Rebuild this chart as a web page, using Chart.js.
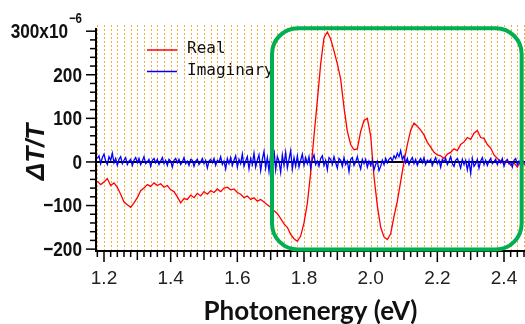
<!DOCTYPE html>
<html>
<head>
<meta charset="utf-8">
<script src="https://cdn.jsdelivr.net/npm/chart.js@4.4.0/dist/chart.umd.min.js"></script>
<style>
  html, body { margin: 0; padding: 0; background: #fff; overflow: hidden; }
  canvas { display: block; }
</style>
</head>
<body>
<canvas id="dtChart" width="525" height="324"></canvas>
<script>
// photon energy grid (eV) of each series and read-off values (x10^-6)
const realStart = 1.18, realStep = 0.01;
const realValues = [
  -44, -52, -46, -38, -54, -48, -58, -74, -92, -98,
  -104, -94, -82, -66, -60, -52, -56, -48, -54, -50,
  -58, -54, -64, -68, -80, -94, -84, -86, -76, -82,
  -72, -78, -68, -74, -66, -70, -62, -68, -60, -58,
  -64, -62, -70, -74, -82, -78, -86, -82, -90, -86,
  -92, -98, -104, -112, -118, -130, -142, -150, -166, -176,
  -182, -170, -140, -95, -25, 60, 140, 225, 285, 298,
  282, 255, 225, 190, 125, 70, 40, 28, 30, 70,
  95, 100, 60, -34, -100, -150, -172, -178, -165, -125,
  -90, -45, 0, 40, 73, 89, 82, 73, 62, 45,
  34, 22, 16, 14, 8, 18, 22, 30, 26, 40,
  46, 56, 52, 66, 72, 56, 54, 40, 32, 16,
  8, 2, -4, 3, -8, -2, -12, 2, -6, -4
];
const imagStart = 1.18, imagStep = 0.005;
const imagValues = [
  8, 14, -4, 10, 18, 2, -6, 12, 4, 20, -2, 8, -8, 6, 12, -4, 4, 10, -6, 2,
  6, -8, 4, 10, -2, 8, -6, 2, 12, -4, 0, 6, -10, 4, 8, -2, 6, -6, 2, 10,
  -4, 4, -8, 6, 2, -12, 4, 8, -2, 6, -6, 0, 10, -4, 2, -8, 6, 4, -10, 2,
  6, -6, 0, 8, -4, 4, -14, 2, 6, -2, 8, -8, 4, 0, 12, -6, 2, -16, 8, -4,
  10, -8, 4, 14, -12, 6, -4, 18, -10, 2, 12, -16, 8, -6, 20, -12, 4, 16, -20, 6,
  24, -14, 10, -22, 18, -6, 28, -18, 12, 2, -24, 16, -8, 22, -14, 6, 26, -16, 10, -10,
  14, -12, 4, 18, -8, 10, -4, 12, -14, 6, 16, -6, 2, -10, 8, 14, -8, 4, -18, 10,
  6, -6, 12, -2, -14, 8, 4, -10, 10, -6, 2, -22, 6, 10, -8, 0, 12, -4, -16, 6,
  -4, 6, -12, 2, -8, 4, -18, -6, 2, -20, -10, 4, -6, 8, -2, 6, 10, 2, 14, 8,
  20, 12, 26, 6, 14, -2, 8, -6, 4, 10, -4, 6, -8, 2, 8, -2, 10, -6, 4, 0,
  6, -8, 2, 10, -4, 4, -12, 6, 0, 8, -6, 2, 12, -4, -10, 4, 8, -2, -14, 6,
  -6, 4, -18, 2, -26, 8, -10, -4, 6, -14, 2, 10, -6, 4, -8, 2, 8, -4, 0, 6,
  -6, 4, -2, 8, -10, 2, 6, -4, 0, -12, 4, 8, -6, 2, -8, 4, 0, -4
];
const seriesNames = ['Real', 'Imaginary'];
const seriesColors = ['#ff0000', '#0000ff'];
const xTickLabels = [1.2, 1.4, 1.6, 1.8, 2.0, 2.2, 2.4];
const yTickLabels = [-200, -100, 0, 100, 200, 300];
// minor tick spacing
const xMinorStep = 0.02, yMinorStep = 20;
// highlighted region (data units)
const boxE = [1.704, 2.453];
const boxV = [-201, 307];

const toPoints = (start, step, vals) =>
  vals.map((v, i) => ({ x: +(start + i * step).toFixed(3), y: v }));

const near = (a, b) => Math.abs(a - b) < 1e-6;
const isXLabel = v => xTickLabels.some(t => near(t, v));
const isYLabel = v => yTickLabels.some(t => near(t, v));

function stepTicks(min, max, step) {
  const out = [];
  const first = Math.ceil(min / step - 1e-9);
  for (let k = first; k * step <= max + 1e-9; k++) out.push({ value: +(k * step).toFixed(4) });
  return out;
}

const decor = {
  id: 'decor',
  beforeDatasetsDraw(chart) {
    const { ctx, chartArea: a, scales: { x, y } } = chart;
    ctx.save();
    // vertical dotted grid
    ctx.strokeStyle = 'rgba(245,160,20,0.85)';
    ctx.lineWidth = 1;
    ctx.setLineDash([2, 2]);
    x.ticks.forEach(t => {
      const px = Math.round(x.getPixelForValue(t.value)) + 0.5;
      ctx.beginPath(); ctx.moveTo(px, a.top - 4); ctx.lineTo(px, a.bottom); ctx.stroke();
    });
    ctx.setLineDash([]);
    // zero line
    ctx.strokeStyle = '#000';
    ctx.lineWidth = 2;
    const py = y.getPixelForValue(0);
    ctx.beginPath(); ctx.moveTo(a.left, py); ctx.lineTo(a.right, py); ctx.stroke();
    ctx.restore();
  },
  afterDraw(chart) {
    const { ctx, chartArea: a, scales: { x, y } } = chart;
    ctx.save();
    // axes
    ctx.strokeStyle = '#000';
    ctx.lineWidth = 2;
    ctx.beginPath();
    ctx.moveTo(a.left, a.top - 1); ctx.lineTo(a.left, a.bottom + 1); ctx.lineTo(a.right, a.bottom + 1);
    ctx.stroke();
    // tick marks
    ctx.lineWidth = 1.5;
    y.ticks.forEach(t => {
      const py = y.getPixelForValue(t.value);
      const len = isYLabel(t.value) ? 10 : 6;
      ctx.beginPath(); ctx.moveTo(a.left - len, py); ctx.lineTo(a.left, py); ctx.stroke();
    });
    x.ticks.forEach(t => {
      const px = x.getPixelForValue(t.value);
      const tenth = Math.abs(t.value * 10 - Math.round(t.value * 10)) < 1e-6;
      const len = isXLabel(t.value) ? 11 : (tenth ? 9 : 6);
      ctx.beginPath(); ctx.moveTo(px, a.bottom + 1); ctx.lineTo(px, a.bottom + 1 + len); ctx.stroke();
    });
    // y tick labels (condensed bold)
    ctx.fillStyle = '#111';
    ctx.textBaseline = 'middle';
    ctx.textAlign = 'right';
    const sq = 0.82;
    yTickLabels.forEach(v => {
      const py = y.getPixelForValue(v);
      ctx.save();
      ctx.translate(82, py);
      ctx.scale(sq, 1);
      if (near(v, 300)) {
        ctx.font = "bold 14px 'Liberation Sans', Arial, sans-serif";
        const supW = ctx.measureText('\u22126').width;
        ctx.fillText('\u22126', 0, -12);
        ctx.font = "bold 21px 'Liberation Sans', Arial, sans-serif";
        ctx.fillText('300x10', -supW - 1, 1);
      } else {
        ctx.font = "bold 21px 'Liberation Sans', Arial, sans-serif";
        ctx.fillText(v < 0 ? '\u2212' + Math.abs(v) : String(v), 0, 1);
      }
      ctx.restore();
    });
    // y title
    ctx.save();
    ctx.translate(37, 152);
    ctx.rotate(-Math.PI / 2);
    ctx.textAlign = 'center';
    ctx.font = "italic bold 26px 'Liberation Sans', Arial, sans-serif";
    ctx.fillText('\u0394T/T', 0, 0);
    ctx.restore();
    // legend
    const legY = [50, 71.5];
    chart.data.datasets.forEach((ds, i) => {
      ctx.strokeStyle = ds.borderColor;
      ctx.lineWidth = 1.5;
      ctx.beginPath(); ctx.moveTo(147, legY[i]); ctx.lineTo(177, legY[i]); ctx.stroke();
      ctx.fillStyle = '#111';
      ctx.textAlign = 'left';
      ctx.font = "16px 'DejaVu Sans Mono', monospace";
      ctx.fillText(ds.label, 187, legY[i] - 1);
    });
    // highlight box
    const bx0 = x.getPixelForValue(boxE[0]), bx1 = x.getPixelForValue(boxE[1]);
    const by0 = y.getPixelForValue(boxV[1]), by1 = y.getPixelForValue(boxV[0]);
    ctx.strokeStyle = '#00b050';
    ctx.lineWidth = 4;
    ctx.beginPath();
    ctx.roundRect(bx0, by0, bx1 - bx0, by1 - by0, 26);
    ctx.stroke();
    ctx.restore();
  }
};

const config = {
  type: 'line',
  data: {
    datasets: [
      {
        label: seriesNames[0],
        data: toPoints(realStart, realStep, realValues),
        borderColor: seriesColors[0],
        borderWidth: 1.3,
        pointRadius: 0,
        tension: 0,
        order: 1
      },
      {
        label: seriesNames[1],
        data: toPoints(imagStart, imagStep, imagValues),
        borderColor: seriesColors[1],
        borderWidth: 1.3,
        pointRadius: 0,
        tension: 0,
        order: 0
      }
    ]
  },
  options: {
    responsive: false,
    animation: false,
    layout: { padding: { top: 29, right: 0, bottom: 0, left: 0 } },
    plugins: { legend: { display: false }, tooltip: { enabled: false } },
    scales: {
      x: {
        type: 'linear',
        min: 1.176,
        max: 2.463,
        afterBuildTicks(s) { s.ticks = stepTicks(s.min, s.max, xMinorStep); },
        afterFit(s) { s.height = 74; s.paddingLeft = 0; s.paddingRight = 0; },
        border: { display: false },
        grid: { display: false, drawTicks: false },
        ticks: {
          autoSkip: false,
          maxRotation: 0,
          padding: 17,
          color: '#222',
          font: { family: "'Liberation Sans', Arial, sans-serif", size: 19 },
          callback: v => isXLabel(v) ? v.toFixed(1) : ''
        },
        title: {
          display: true,
          text: 'Photonenergy (eV)',
          color: '#111',
          font: { family: 'Lato', weight: 'bold', size: 26 },
          padding: { top: 0, bottom: -3 }
        }
      },
      y: {
        min: -202,
        max: 305,
        afterBuildTicks(s) { s.ticks = stepTicks(s.min, s.max, yMinorStep); },
        afterFit(s) { s.width = 96; s.paddingTop = 0; s.paddingBottom = 0; },
        border: { display: false },
        grid: { display: false, drawTicks: false },
        ticks: { display: false }
      }
    }
  },
  plugins: [decor]
};

new Chart(document.getElementById('dtChart'), config);
</script>
</body>
</html>
